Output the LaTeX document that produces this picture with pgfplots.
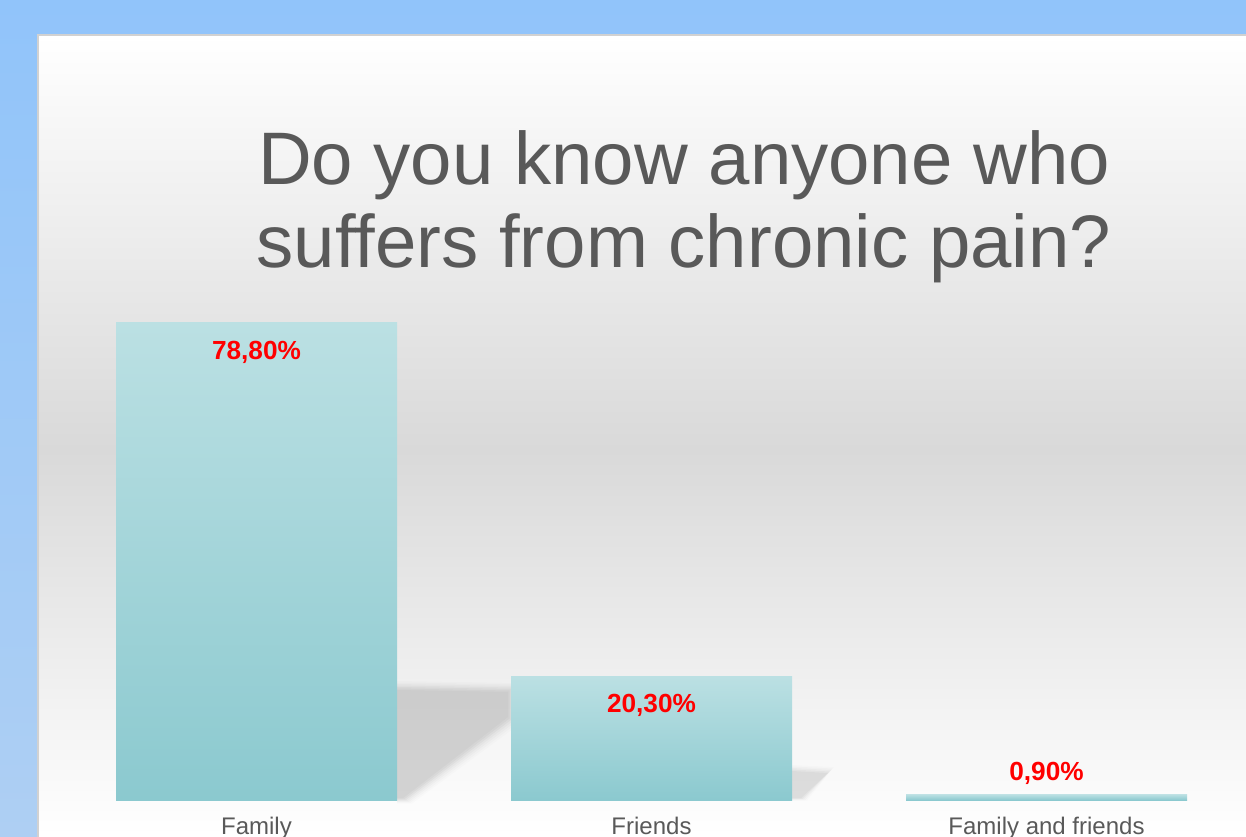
\documentclass[border=0pt]{standalone}
\usepackage{fontspec}
\setmainfont{Liberation Sans}
\usepackage{pgfplots}
\pgfplotsset{compat=1.18}
\definecolor{bgtop}{HTML}{91C4FA}
\definecolor{bgbot}{HTML}{AECFF3}
\definecolor{bartop}{HTML}{BBE0E3}
\definecolor{barbot}{HTML}{8BC9CF}
\definecolor{txtgray}{HTML}{595959}
\definecolor{panelgray}{HTML}{D9D9D9}
\definecolor{labred}{HTML}{FF0000}
\pgfplotsset{barsty/.style={ybar, bar width=140.5pt, bar shift=0pt, draw=none, mark=none, top color=bartop, bottom color=barbot}}
\begin{document}
\begin{tikzpicture}[x=0.5pt,y=0.5pt]
\clip (0,0) rectangle (1246,836);
\shade[top color=bgtop,bottom color=bgbot] (0,0) rectangle (1246,836);
\shade[top color=white,bottom color=panelgray] (37,386) rectangle (1250,801);
\shade[top color=panelgray,bottom color=white] (37,0) rectangle (1250,386.5);
\draw[black!18,line width=1pt] (37.5,-5) -- (37.5,800.5) -- (1250,800.5);
% soft shadows behind the bars
\foreach \d/\o in {6/0.01,4.5/0.015,3/0.02,1.5/0.025,0/0.03,-1.5/0.03,-3/0.025}{
  \fill[black, opacity=\o] (397,{149+\d}) -- ({511+\d},{147+\d}) -- ({511+\d},{116-\d}) -- ({406+\d},{36-\d*0.6}) -- (397,{36-\d*0.6}) -- cycle;
}
\foreach \d/\o in {4/0.01,2.5/0.02,1/0.025,-0.5/0.03,-2/0.03}{
  \fill[black, opacity=\o] (792,{67+\d}) -- ({830+\d},{65+\d}) -- ({803+\d},{37-\d*0.4}) -- (792,{37-\d*0.4}) -- cycle;
}
\node[text=txtgray,font=\fontsize{37.2}{42.5}\selectfont,anchor=base,inner sep=0pt] at (684,651) {Do you know anyone who};
\node[text=txtgray,font=\fontsize{37.2}{42.5}\selectfont,anchor=base,inner sep=0pt] at (684,568) {suffers from chronic pain?};
\begin{axis}[
  at={(29.5pt,18pt)}, anchor=south west,
  scale only axis, width=592.5pt, height=303.3pt,
  xmin=-0.5, xmax=2.5, ymin=0, ymax=100,
  axis line style={draw=none},
  ytick=\empty,
  xtick={0,1,2},
  xticklabels={Family,Friends,Family and friends},
  major tick length=0pt,
  xticklabel style={font=\fontsize{12}{14}\selectfont, text=txtgray, yshift=-5pt},
  clip=false,
]
\addplot[barsty] coordinates {(0,78.8)};
\addplot[barsty] coordinates {(1,20.3)};
\addplot[barsty] coordinates {(2,0.9)};
\node[text=labred, font=\bfseries\fontsize{13.1}{15}\selectfont, anchor=center] at (axis cs:0,78.8) [yshift=-15pt] {78,80\%};
\node[text=labred, font=\bfseries\fontsize{13.1}{15}\selectfont, anchor=center] at (axis cs:1,20.3) [yshift=-14.5pt] {20,30\%};
\node[text=labred, font=\bfseries\fontsize{13.1}{15}\selectfont, anchor=center] at (axis cs:2,0.9) [yshift=10.75pt] {0,90\%};
\end{axis}
\end{tikzpicture}
\end{document}
